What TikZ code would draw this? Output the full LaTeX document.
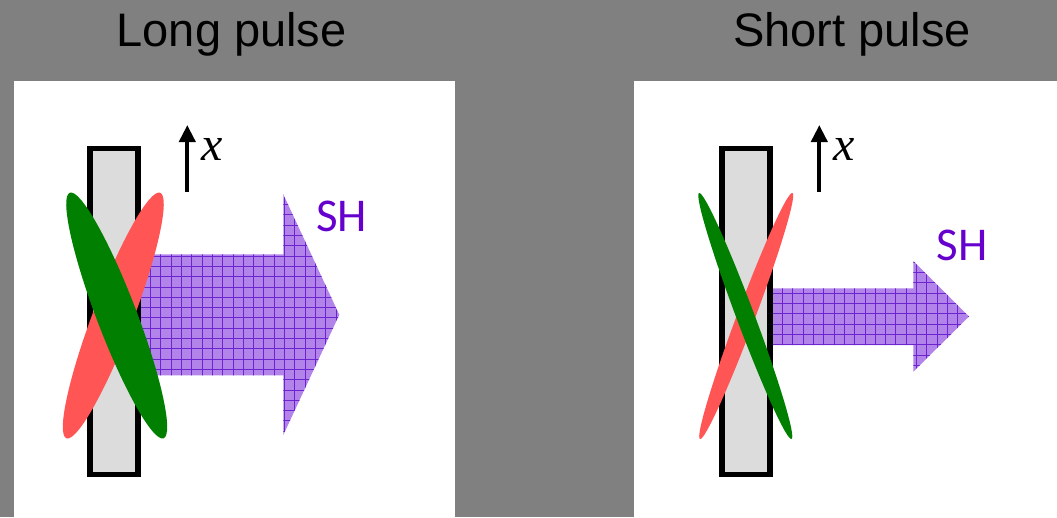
\documentclass[tikz,border=0pt]{standalone}
\usepackage{fontspec}
\setmainfont{Liberation Sans}
\newfontfamily\calibf{Carlito}
\newfontfamily\timesf{Liberation Serif}
\usetikzlibrary{arrows.meta}
\definecolor{bggray}{HTML}{808080}
\definecolor{platefill}{HTML}{DCDCDC}
\definecolor{pulsered}{HTML}{FF5555}
\definecolor{pulsegreen}{HTML}{007F00}
\definecolor{shtext}{HTML}{6600CC}
\definecolor{shfill}{RGB}{178,132,234}
\definecolor{shgrid}{RGB}{108,36,206}
\tikzset{
  title/.style={inner sep=0pt, anchor=base, font=\fontsize{47}{50}\selectfont},
  shlabel/.style={inner sep=0pt, anchor=base, text=shtext, font=\calibf\fontsize{47}{50}\selectfont},
  xlabel/.style={inner sep=0pt, anchor=base, font=\timesf\itshape\fontsize{48}{50}\selectfont},
  plate/.style={fill=platefill, draw=black, line width=5.3pt},
  xaxis/.style={line width=4pt, -{Triangle[width=16pt,length=17pt]}},
  gridline/.style={draw=shgrid, line width=1pt},
}
\begin{document}
\begin{tikzpicture}[x=1pt,y=-1pt]
% background
\fill[bggray] (0,0) rectangle (1057,517);
\useasboundingbox (0,0) rectangle (1057,517);
\fill[white] (14,81) rectangle (455,517);
\fill[white] (634,81) rectangle (1057,517);
% titles
\node[title] (tlong) at (231.7,46.7) {Long pulse};
\node[title] (tshort) at (852,46.7) {Short pulse};

% ---------- left panel ----------
\begin{scope}
\clip (136,254.3) -- (283.3,254.3) -- (283.3,194.3) -- (339.3,314.8) -- (283.3,435) -- (283.3,375.3) -- (136,375.3) -- cycle;
\fill[shfill] (130,180) rectangle (350,450);
\foreach \i in {0,...,21} {\draw[gridline] ({int(130+\i*10.3)+0.5},180) -- ({int(130+\i*10.3)+0.5},450);}
\foreach \j in {0,...,26} {\draw[gridline] (130,{int(184+\j*10.3)+0.5}) -- (350,{int(184+\j*10.3)+0.5});}
\end{scope}
\draw[plate] (90,148.5) rectangle (138,474.5);
\fill[pulsered, rotate around={-20.9:(113.3,315.5)}] (113.3,315.5) ellipse [x radius=20pt, y radius=131.4pt];
\fill[pulsegreen, rotate around={20.9:(116.7,315.5)}] (116.7,315.5) ellipse [x radius=20pt, y radius=131.4pt];
\coordinate (lxa) at (187.3,191.7);
\coordinate (lxb) at (187.3,125);
\draw[xaxis] (lxa) -- (lxb);
\node[xlabel] (lx) at (212.5,160) {x};
\node[shlabel] (lsh) at (341.7,231.7) {SH};

% ---------- right panel ----------
\begin{scope}
\clip (768,288.3) -- (913.3,288.3) -- (913.3,261) -- (969,316.5) -- (913.3,371.7) -- (913.3,345) -- (768,345) -- cycle;
\fill[shfill] (760,250) rectangle (980,380);
\foreach \i in {0,...,21} {\draw[gridline] ({int(762+\i*10.3)+0.5},250) -- ({int(762+\i*10.3)+0.5},380);}
\foreach \j in {0,...,13} {\draw[gridline] (760,{int(252+\j*10.3)+0.5}) -- (980,{int(252+\j*10.3)+0.5});}
\end{scope}
\draw[plate] (722,148.5) rectangle (770,474.5);
\fill[pulsered, rotate around={-20.6:(746.2,316)}] (746.2,316) ellipse [x radius=9pt, y radius=131.4pt];
\fill[pulsegreen, rotate around={20.6:(745.3,316)}] (745.3,316) ellipse [x radius=9pt, y radius=131.4pt];
\coordinate (rxa) at (819.3,191.7);
\coordinate (rxb) at (819.3,125);
\draw[xaxis] (rxa) -- (rxb);
\node[xlabel] (rx) at (844,160) {x};
\node[shlabel] (rsh) at (962,260) {SH};
\end{tikzpicture}
\end{document}
